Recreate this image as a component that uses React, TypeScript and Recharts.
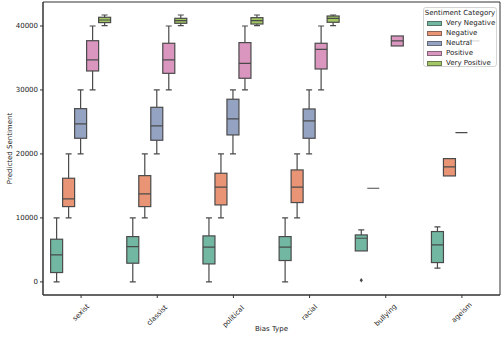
import React from 'react';
import { ComposedChart, Bar, XAxis, YAxis, Legend, ReferenceArea } from 'recharts';

type Stats = [number, number, number, number, number] | null;

const categories = ['sexist', 'classist', 'political', 'racial', 'bullying', 'ageism'];
const sentiments = ['Very Negative', 'Negative', 'Neutral', 'Positive', 'Very Positive'];
const colors = ['#71b7a1', '#e99575', '#95a3c3', '#db96c0', '#a2c764'];

// [whisker low, q1, median, q3, whisker high]
const veryNegative: Stats[] = [
  [0, 1460, 4220, 6670, 10000],
  [0, 2920, 5520, 7080, 10000],
  [0, 2810, 5420, 7190, 10000],
  [0, 3340, 5420, 7080, 10000],
  [4840, 4840, 6820, 7340, 8125],
  [2140, 3020, 5780, 7870, 8590],
];
const negative: Stats[] = [
  [10000, 11770, 12970, 16200, 20000],
  [10000, 11770, 13750, 16610, 20000],
  [10000, 12030, 14800, 16980, 20000],
  [10000, 12400, 14800, 17500, 20000],
  [14640, 14640, 14640, 14640, 14640],
  [16560, 16560, 17970, 19270, 19270],
];
const neutral: Stats[] = [
  [20000, 22450, 24690, 27080, 30000],
  [20000, 22140, 24375, 27290, 30000],
  [20000, 22970, 25470, 28550, 30000],
  [20000, 22450, 25160, 27030, 30000],
  null,
  [23330, 23330, 23330, 23330, 23330],
];
const positive: Stats[] = [
  [30000, 32970, 34690, 37700, 40000],
  [30000, 32600, 34690, 37300, 40000],
  [30000, 31830, 34170, 37400, 40000],
  [30000, 33280, 36350, 37300, 40000],
  [36875, 36875, 37660, 38440, 38440],
  [37660, 37660, 37660, 37660, 37660],
];
const veryPositive: Stats[] = [
  [40050, 40530, 40940, 41360, 41720],
  [40050, 40420, 40830, 41200, 41720],
  [40050, 40310, 40830, 41300, 41720],
  [40050, 40580, 41200, 41560, 41720],
  null,
  null,
];
const veryNegativeOutliers: number[][] = [[], [], [], [], [250], []];

const yTicks = [0, 10000, 20000, 30000, 40000];
const yDomain: [number, number] = [-2050, 43750];

const seriesStats = [veryNegative, negative, neutral, positive, veryPositive];
const seriesOutliers: number[][][] = [veryNegativeOutliers, [], [], [], []];

const data = categories.map((cat, i) => {
  const row: any = { cat };
  seriesStats.forEach((s, k) => {
    const st = s[i];
    if (st) {
      row[`r${k}`] = [st[0], st[4]];
      row[`st${k}`] = st;
      row[`out${k}`] = (seriesOutliers[k][i]) || [];
    }
  });
  return row;
});

const LINE = '#4a4a4a';

const makeShape = (k: number) => (props: any) => {
  const { x, y, width, height, payload } = props;
  const st: Stats = payload && payload[`st${k}`];
  if (!st) return <g />;
  const [lo, q1, med, q3, hi] = st;
  const span = hi - lo;
  const py = (v: number) => (span === 0 ? y : y + (height * (hi - v)) / span);
  const cx = x + width / 2;
  const cap = width * 0.25;
  const outs: number[] = payload[`out${k}`] || [];
  const yq1 = py(q1), yq3 = py(q3), ymed = py(med), ylo = py(lo), yhi = py(hi);
  return (
    <g>
      {hi > q3 && <line x1={cx} x2={cx} y1={yhi} y2={yq3} stroke={LINE} strokeWidth={1.2} />}
      {hi > q3 && <line x1={cx - cap} x2={cx + cap} y1={yhi} y2={yhi} stroke={LINE} strokeWidth={1.2} />}
      {lo < q1 && <line x1={cx} x2={cx} y1={ylo} y2={yq1} stroke={LINE} strokeWidth={1.2} />}
      {lo < q1 && <line x1={cx - cap} x2={cx + cap} y1={ylo} y2={ylo} stroke={LINE} strokeWidth={1.2} />}
      <rect x={x} y={Math.min(yq1, yq3)} width={width} height={Math.abs(yq1 - yq3)} fill={colors[k]} stroke={LINE} strokeWidth={1.2} />
      <line x1={x} x2={x + width} y1={ymed} y2={ymed} stroke={LINE} strokeWidth={1.2} />
      {outs.map((o, j) => {
        const oy = py(o);
        return <path key={j} d={`M${cx},${oy - 2.2} L${cx + 1.6},${oy} L${cx},${oy + 2.2} L${cx - 1.6},${oy} Z`} fill={LINE} />;
      })}
    </g>
  );
};

const XTick = (props: any) => {
  const { x, y, payload } = props;
  const label = String(payload.value);
  const fs = 7;
  const L = label.length * fs * 0.55;
  const top = y + 2;
  const cy = top + ((L + fs) * 0.7071) / 2;
  return (
    <text x={x} y={cy} textAnchor="middle" dominantBaseline="central" fontSize={fs} fill="#222" transform={`rotate(-45 ${x} ${cy})`}>
      {label}
    </text>
  );
};

const LegendBox = (props: any) => {
  const payload = [...(props.payload || [])].sort(
    (a: any, b: any) => sentiments.indexOf(a.value) - sentiments.indexOf(b.value)
  );
  return (
    <div style={{ background: 'rgba(255,255,255,0.8)', border: '1px solid #d4d4d4', borderRadius: 3, boxSizing: 'border-box', width: 74, height: 60, fontSize: 7, color: '#222', paddingLeft: 3 }}>
      <div style={{ lineHeight: '10px', height: 10, textAlign: 'center', marginLeft: -3 }}>Sentiment Category</div>
      {payload.map((p: any, i: number) => (
        <div key={i} style={{ display: 'flex', alignItems: 'center', height: 10, lineHeight: '10px' }}>
          <span style={{ display: 'inline-block', width: 15, height: 5, boxSizing: 'border-box', background: p.color, border: '0.6px solid rgba(60,60,60,0.55)' }} />
          <span style={{ marginLeft: 4 }}>{p.value}</span>
        </div>
      ))}
    </div>
  );
};

export default function App() {
  return (
    <div style={{ position: 'absolute', left: 0, top: 0, fontFamily: '"DejaVu Sans", sans-serif' }}>
      <ComposedChart width={504} height={341} data={data} margin={{ top: 2, right: 4, left: 0, bottom: 0 }} barCategoryGap="10%" barGap={0}>
        <ReferenceArea y1={yDomain[0]} y2={yDomain[1]} fill="none" stroke="#333" strokeWidth={1} ifOverflow="visible" />
        <XAxis
          dataKey="cat"
          type="category"
          height={46}
          interval={0}
          tickSize={3}
          tickMargin={2}
          axisLine={{ stroke: '#333' }}
          tickLine={{ stroke: '#333' }}
          tick={<XTick />}
          label={{
            content: (p: any) => {
              const vb = p.viewBox;
              return (
                <text x={vb.x + vb.width / 2} y={329} textAnchor="middle" dominantBaseline="central" fontSize={7} fill="#222">
                  Bias Type
                </text>
              );
            },
          }}
        />
        <YAxis
          type="number"
          domain={yDomain}
          ticks={yTicks}
          allowDataOverflow
          width={43}
          tickSize={3}
          tickMargin={2}
          axisLine={{ stroke: '#333' }}
          tickLine={{ stroke: '#333' }}
          tick={{ fontSize: 7, fill: '#222' }}
          label={{
            content: (p: any) => {
              const vb = p.viewBox;
              const cy = vb.y + vb.height / 2;
              return (
                <text x={10} y={cy} textAnchor="middle" dominantBaseline="central" fontSize={7} fill="#222" transform={`rotate(-90 10 ${cy})`}>
                  Predicted Sentiment
                </text>
              );
            },
          }}
        />
        {sentiments.map((s, k) => (
          <Bar key={s} dataKey={`r${k}`} name={s} fill={colors[k]} shape={makeShape(k)} isAnimationActive={false} />
        ))}
        <Legend layout="vertical" align="center" verticalAlign="middle" itemSorter={null as any} content={<LegendBox />} wrapperStyle={{ left: 423, top: 7, width: 74, height: 60 }} />
      </ComposedChart>
    </div>
  );
}
